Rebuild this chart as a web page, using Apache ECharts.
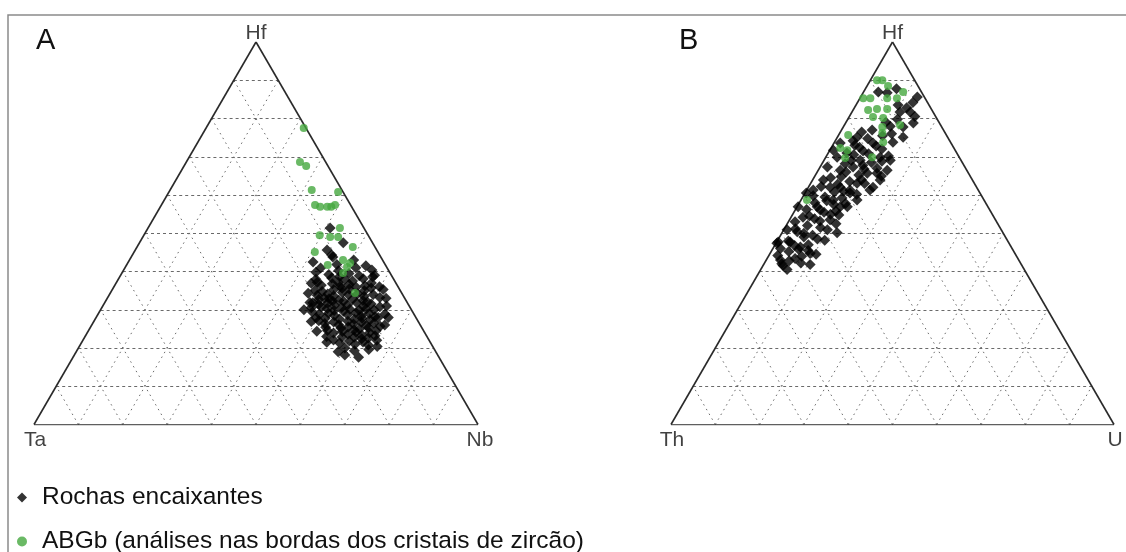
<!DOCTYPE html>
<html>
<head>
<meta charset="utf-8">
<script src="https://cdn.jsdelivr.net/npm/echarts@6/dist/echarts.min.js"></script>
<style>
html,body{margin:0;padding:0;background:#fff;}
#chart{width:1126px;height:552px;}
</style>
</head>
<body>
<div id="chart"></div>
<script>
// ---- DATA (ternary compositions, percent) ----
// Diagram A: [Hf, Nb]  (Ta = 100 - Hf - Nb)
const aRochas = [
[51.4,41.0],[47.5,45.9],[44.3,44.9],[43.8,45.4],[42.5,41.6],[40.4,55.9],[45.6,43.2],[41.8,47.3],[40.9,44.1],
[39.8,43.6],[39.2,46.8],[38.7,49.5],[39.5,51.2],[38.9,53.8],[38.3,47.9],[37.9,51.0],[38.1,55.1],
[36.9,44.0],[36.4,46.5],[36.8,48.8],[36.1,50.9],[36.6,52.7],[35.9,54.6],[36.3,56.4],[35.7,58.1],[37.2,45.2],
[34.3,44.6],[33.8,46.9],[34.1,49.1],[33.6,50.7],[34.5,52.2],[33.9,53.9],[34.2,55.8],[33.5,57.6],[34.0,59.4],[33.2,61.3],
[31.9,46.2],[31.4,48.4],[31.7,50.3],[31.1,52.1],[32.2,53.6],[31.3,55.0],[31.8,56.8],[30.9,58.7],[31.5,60.2],[30.8,62.5],[32.0,59.1],
[29.4,48.0],[28.8,49.9],[29.1,51.8],[28.5,53.4],[29.6,54.9],[28.7,56.3],[29.2,57.9],[28.4,59.5],[29.0,61.0],[28.2,62.7],[28.9,64.6],[30.1,56.1],[29.8,52.7],
[27.1,50.6],[26.4,52.3],[26.8,54.1],[26.1,55.6],[27.0,57.2],[26.3,58.8],[26.7,60.4],[25.9,61.9],[26.5,63.3],[25.7,65.1],[27.4,62.0],
[24.6,53.8],[23.9,55.5],[24.3,57.3],[23.6,58.9],[24.1,60.5],[23.4,62.1],[24.0,63.6],[23.2,65.2],[24.8,59.7],
[22.1,56.4],[21.3,58.2],[21.8,60.1],[21.0,61.8],[21.6,63.3],[20.8,64.9],[22.4,62.6],
[18.2,60.9],[17.6,64.3],[20.4,67.1],[19.3,62.5],
[31.8,46.9],[30.5,47.2],[27.9,49.6],[35.1,45.8],[32.7,47.8],
[38.0,44.5],[37.5,53.0],[35.2,49.9],[35.4,53.3],[35.0,56.9],[32.9,50.0],[32.5,52.4],[32.8,55.4],[32.4,57.9],
[30.3,50.9],[30.6,54.0],[30.2,59.7],[30.0,61.6],[27.8,51.7],[27.6,55.0],[27.5,58.4],[27.8,60.0],[25.4,53.0],
[25.2,56.5],[25.0,60.8],[25.3,62.7],[22.9,57.9],[22.8,60.7],[22.6,64.0],[20.0,60.0],[19.6,65.6],[40.2,48.5],
[41.0,52.0],[37.0,57.5],[33.0,62.8],[26.0,66.0],[28.0,65.8],
[43.0,50.5],[41.5,54.0],[39.0,57.2],[37.2,49.9],[35.6,51.6],[34.8,47.5],[33.0,48.9],[32.3,51.1],[30.7,49.4],
[29.9,58.3],[31.0,63.9],[28.0,63.5],[26.9,49.0],[25.5,58.0],[24.4,51.5],[23.0,54.4],[21.5,55.2],[22.0,66.2],
[19.0,59.0],[24.5,64.8],[30.0,45.8],[36.0,59.8],[38.6,57.0],[35.3,61.0]
];
const aABGb = [
[77.5,22.0],[68.6,25.6],[67.6,27.5],[61.3,31.9],[60.8,38.1],[57.4,34.6],[56.9,36.0],[56.9,37.6],[56.9,38.5],[57.4,39.1],
[51.4,43.2],[49.5,39.6],[49.0,42.2],[49.0,44.0],[46.4,48.6],[45.1,40.7],[41.7,45.3],[43.0,48.1],[41.2,49.9],[42.2,50.1],
[39.6,49.8],[34.4,55.1]
];
// Diagram B: [Hf, U]  (Th = 100 - Hf - U)
const bRochas = [
[86.9,3.35],[86.7,5.45],[85.6,12.8],[81.7,10.85],[81.7,13.15],[78.8,15.3],[75.1,14.85],[73.8,13.2],[77.0,6.9],[73.6,8.8],
[75.1,4.45],[73.6,1.4],[71.7,0.8],[69.9,2.55],[69.1,8.15],[69.9,12.25],[69.1,14.95],[66.5,15.55],[65.7,13.65],[62.0,14.6],
[65.7,11.45],[67.3,7.45],[66.5,4.95],[67.3,1.65],[63.9,2.45],[61.3,1.45],[60.5,0.3],[62.0,4.9],[62.0,7.2],[60.5,10.15],
[63.1,10.45],[58.7,7.25],[56.9,11.35],[56.9,4.55],[56.9,0.25],[54.2,2.7],[56.1,5.65],[53.5,9.15],[50.1,12.45],[50.9,0.75],
[50.4,3.3],[47.7,0.35],[47.7,3.05],[46.4,6.0],[46.0,1.7],[44.7,9.05],[43.4,6.3],[40.5,5.95],[41.8,10.5],[50.9,9.85],
[56.9,9.75],[58.7,12.65],[61.3,14.25],[63.9,15.25],[61.3,9.75],[47.4,0.2],[41.6,4.5],
[64.5,3.8],[62.8,6.2],[61.0,8.5],[59.5,5.0],[58.0,3.5],[57.5,8.0],[55.5,6.8],[54.8,10.5],[63.5,8.6],[60.2,11.8],
[66.0,6.5],[65.2,9.8],[68.2,5.2],[67.8,9.4],[70.5,6.0],[70.8,9.2],[72.5,6.3],[72.0,11.6],[74.2,4.0],[76.0,11.8],
[77.8,13.5],[79.8,11.2],[83.5,9.5],[84.2,12.5],[80.5,14.8],[52.0,4.8],[51.5,8.0],[49.0,5.5],[48.5,8.8],[53.0,1.5],
[45.2,4.0],[43.0,3.2],[44.0,7.5],
[74.8,7.0],[72.8,9.9],[71.0,4.2],[69.0,6.2],[68.5,11.0],[67.0,13.0],[64.8,6.0],[63.0,12.2],[60.8,6.5],[59.2,9.0],
[57.8,10.5],[56.2,2.5],[55.0,8.5],[53.8,5.5],[52.5,11.0],[51.2,2.5],[49.5,7.2],[48.2,10.6],[46.8,4.5],[45.5,8.2],
[44.2,2.0],[42.2,8.2],[42.8,5.3],[79.0,9.0],[82.8,11.8],[87.8,7.0],[76.5,4.8],[70.2,14.0],
[66.8,10.2],[64.0,11.0],[62.2,2.8],[59.8,2.2],[58.5,5.9],[55.8,9.3],[54.5,4.0],[53.2,7.0],[50.0,5.0],[48.0,2.5],
[47.0,7.5],[45.8,5.9],[44.5,10.5],[42.0,4.0],[71.5,7.6],[73.0,5.0],[75.5,10.0],[68.8,13.2],[65.0,15.0],[78.0,10.5]
];
const bABGb = [
[90.0,2.7],[88.5,4.75],[86.9,8.95],[90.0,1.5],[85.3,0.75],[85.3,2.35],[85.3,6.15],[85.3,8.35],[82.2,3.4],[82.5,5.25],
[82.5,7.55],[80.4,5.4],[80.1,7.85],[77.8,8.8],[78.3,12.55],[76.2,9.6],[75.7,2.15],[73.8,11.0],[72.3,2.05],[71.7,3.95],
[69.9,10.45],[69.7,4.45],[58.7,1.35]
];
const gridTicks = [10,20,30,40,50,60,70,80,90];
const panelLabels = ['A','B'];
const vertexLabelsA = ['Hf','Ta','Nb'];
const vertexLabelsB = ['Hf','Th','U'];
const seriesNames = ['Rochas encaixantes','ABGb (análises nas bordas dos cristais de zircão)'];

// ---- helpers ----
const H = Math.sqrt(3)/2;
function toXY(p){ const top=p[0]/100, right=p[1]/100; return [right + top/2, top*H]; }
function seg(a,b){ return {coords:[a,b]}; }
function horizSegs(){ return gridTicks.map(t=>{const f=t/100; return seg([f/2,f*H],[1-f/2,f*H]);}); }
function diagSegs(){
  const s=[];
  gridTicks.forEach(t=>{const f=t/100;
    s.push(seg([f,0],[f+(1-f)/2,(1-f)*H]));
    s.push(seg([1-f,0],[(1-f)/2,(1-f)*H]));
  });
  return s;
}
const outline = [seg([0,0],[1,0]), seg([1,0],[0.5,H]), seg([0.5,H],[0,0])];
const vertexPts = [[0.5,H],[0,0],[1,0]];

const FONT = "'Liberation Sans', Arial, sans-serif";
const GREEN = '#45a83f';
const TXT = '#111';
const grids = [
  {left:34, top:42, width:444, height:382.5},
  {left:671, top:42, width:443, height:382.5}
];

const series = [];
[0,1].forEach(g=>{
  const rochas = g===0 ? aRochas : bRochas;
  const abgb = g===0 ? aABGb : bABGb;
  const vlabels = g===0 ? vertexLabelsA : vertexLabelsB;
  series.push({type:'lines', coordinateSystem:'cartesian2d', xAxisIndex:g, yAxisIndex:g, silent:true, z:1,
    data:horizSegs(), lineStyle:{color:'#6a6a6a', width:1, type:[3,3], opacity:1}});
  series.push({type:'lines', coordinateSystem:'cartesian2d', xAxisIndex:g, yAxisIndex:g, silent:true, z:1,
    data:diagSegs(), lineStyle:{color:'#6a6a6a', width:1, type:[1.5,4], opacity:1}});
  series.push({type:'lines', coordinateSystem:'cartesian2d', xAxisIndex:g, yAxisIndex:g, silent:true, z:2,
    data:outline, lineStyle:{color:'#2a2a2a', width:1.6, opacity:1}});
  series.push({type:'scatter', name:seriesNames[0], xAxisIndex:g, yAxisIndex:g, z:3,
    symbol:'diamond', symbolSize:11, itemStyle:{color:'#000'},
    data:rochas.map(toXY)});
  series.push({type:'scatter', name:seriesNames[1], xAxisIndex:g, yAxisIndex:g, z:4,
    symbol:'circle', symbolSize:8, itemStyle:{color:GREEN},
    data:abgb.map(toXY)});
  const offs = [[0,-9],[1,15.5],[2,15.5]];
  series.push({type:'scatter', xAxisIndex:g, yAxisIndex:g, silent:true, symbolSize:0, z:5,
    data:vertexPts.map((p,i)=>({value:p, label:{show:true, position:'inside', offset:(g===1&&i===2)?[1,15.5]:offs[i], formatter:vlabels[i]}})),
    label:{color:TXT, fontSize:21, fontFamily:FONT}});
});

const legendBase = {
  orient:'vertical', left:17, padding:0, itemWidth:10, itemHeight:10, selectedMode:false,
  textStyle:{fontSize:24.5, color:TXT, fontFamily:FONT, padding:[0,0,0,10]}
};

const chart = echarts.init(document.getElementById('chart'), null, {renderer:'canvas'});
chart.setOption({
  animation:false,
  backgroundColor:'#fff',
  grid:grids,
  xAxis:[0,1].map(i=>({gridIndex:i, type:'value', min:0, max:1, show:false})),
  yAxis:[0,1].map(i=>({gridIndex:i, type:'value', min:0, max:H, show:false})),
  title:[
    {text:panelLabels[0], left:36, top:26, padding:0, textStyle:{fontSize:29, fontWeight:'normal', color:TXT, fontFamily:FONT}},
    {text:panelLabels[1], left:679, top:26, padding:0, textStyle:{fontSize:29, fontWeight:'normal', color:TXT, fontFamily:FONT}}
  ],
  legend:[
    Object.assign({}, legendBase, {top:485, data:[seriesNames[0]]}),
    Object.assign({}, legendBase, {top:529, data:[seriesNames[1]]})
  ],
  graphic:[
    {type:'rect', shape:{x:8, y:15, width:1140, height:580}, style:{fill:'none', stroke:'#8a8a8a', lineWidth:1.5}, silent:true}
  ],
  series:series
});
</script>
</body>
</html>
